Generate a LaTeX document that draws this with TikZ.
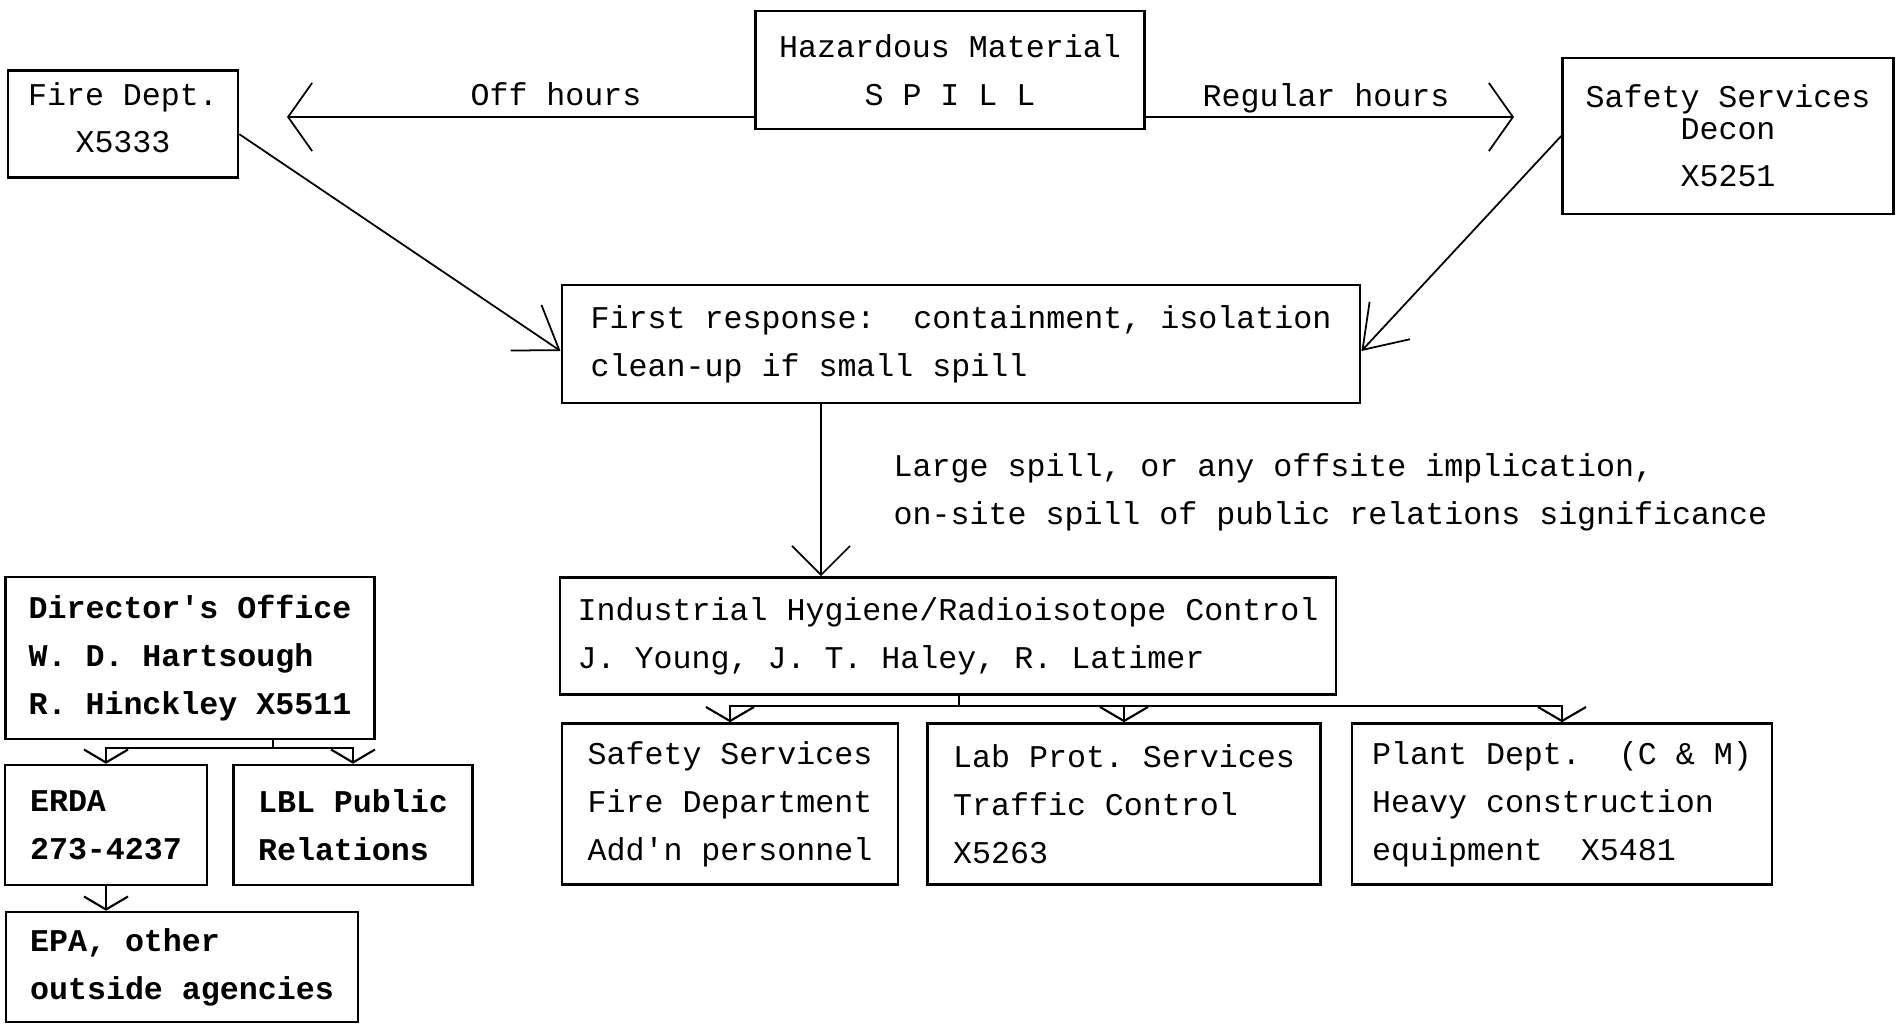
\documentclass[tikz,border=0pt]{standalone}
\usepackage{fontspec}
\setmonofont{Liberation Mono}[WordSpace={1,0,0}]
\usetikzlibrary{arrows.meta}

\begin{document}
\begin{tikzpicture}[x=0.01cm,y=-0.01cm,
   every node/.style={font=\ttfamily\fontsize{9}{13.6}\selectfont\frenchspacing},
   box/.style={draw,line width=0.7pt,inner sep=0pt,align=left},
   cbox/.style={box,align=center},
   heavy/.style={box,font=\ttfamily\bfseries\fontsize{9}{13.6}\selectfont\frenchspacing},
   every path/.style={line width=0.5pt},
   bigtip/.style={-{Straight Barb[length=0.24cm,width=0.68cm]}},
   midtip/.style={-{Straight Barb[length=0.4cm,width=0.55cm]}},
   downtip/.style={-{Straight Barb[length=0.29cm,width=0.58cm]}},
   smalltip/.style={line width=0.6pt,-{Straight Barb[length=0.14cm,width=0.48cm]}},
   flattip/.style={line width=0.6pt,-{Straight Barb[length=0.13cm,width=0.44cm]}}]
   \useasboundingbox[fill=white] (0,0) rectangle (1896,1024);

   \node[cbox,minimum width=2.30cm,minimum height=1.07cm,text depth=0.13cm] (fire) at (123,124) {Fire Dept.\\X5333};
   \node[cbox,minimum width=3.89cm,minimum height=1.18cm] (spill) at (950,70) {Hazardous Material\\S P I L L};
   \node[cbox,minimum width=3.31cm,minimum height=1.56cm] (decon) at (1728,136) {Safety Services\\[-4.7pt]Decon\\X5251};
   \node[box,minimum width=7.98cm,minimum height=1.18cm] (first) at (961,344) {First response:~ containment, isolation\\clean-up if small spill};
   \node[box,minimum width=7.76cm,minimum height=1.17cm] (ihrc) at (948,636) {Industrial Hygiene/Radioisotope Control\\J. Young, J. T. Haley, R. Latimer};
   \node[box,minimum width=3.36cm,minimum height=1.61cm] (safety) at (730,804) {Safety Services\\Fire Department\\Add'n personnel};
   \node[box,minimum width=3.93cm,minimum height=1.61cm] (labprot) at (1124,804) {Lab Prot. Services\\Traffic Control\\X5263};
   \node[box,minimum width=4.20cm,minimum height=1.61cm] (plant) at (1562,804) {Plant Dept.~ (C \& M)\\Heavy construction\\equipment~ X5481};
   \node[heavy,minimum width=3.69cm,minimum height=1.62cm] (director) at (190,658) {Director's Office\\W. D. Hartsough\\R. Hinckley X5511};
   \node[heavy,minimum width=2.02cm,minimum height=1.20cm] (erda) at (106,825) {ERDA\\273-4237};
   \node[heavy,minimum width=2.39cm,minimum height=1.20cm] (lbl) at (353,825) {LBL Public\\Relations};
   \node[heavy,minimum width=3.52cm,minimum height=1.10cm] (epa) at (182,967) {EPA, other\\outside agencies};

   \node (offlbl) at (556,94) {Off hours};
   \node (reglbl) at (1326,98) {Regular hours};
   \node[anchor=west,align=left] (cond) at (881,492) {Large spill, or any offsite implication,\\on-site spill of public relations significance};

   \coordinate (offend) at (287,117);
   \coordinate (regend) at (1514,117);
   \coordinate (drop) at (821,0);
   \coordinate (ihfork) at (959,706);
   \coordinate (dirfork) at (273,748);

   \draw[bigtip] (spill.west |- offend) -- (offend);
   \draw[bigtip] (spill.east |- regend) -- (regend);
   \draw[midtip] (fire.-5) -- (first.181);
   \draw[midtip] (decon.west) -- (first.-1);
   \draw[downtip] (first.south -| drop) -- (ihrc.north -| drop);

   \draw (ihrc.south -| ihfork) -- (ihfork);
   \draw[smalltip] (ihfork) -| (safety.north);
   \draw[smalltip] (ihfork) -| (labprot.north);
   \draw[smalltip] (ihfork) -| (plant.north);

   \draw (director.south -| dirfork) -- (dirfork);
   \draw[flattip] (dirfork) -| (erda.north);
   \draw[flattip] (dirfork) -| (lbl.north);
   \draw[flattip] (erda.south) -- (erda.south |- epa.north);
\end{tikzpicture}
\end{document}
